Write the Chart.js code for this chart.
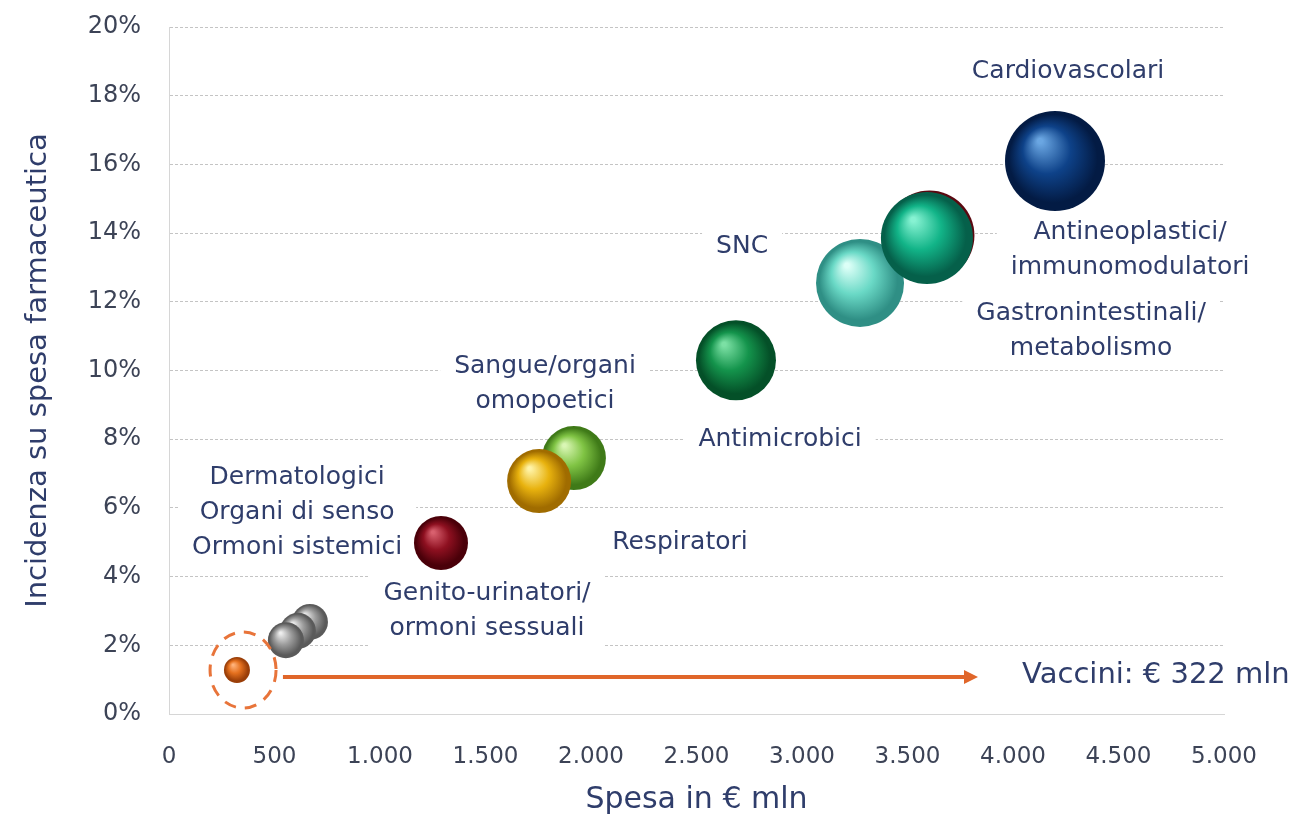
<!DOCTYPE html>
<html>
<head>
<meta charset="utf-8">
<script src="https://cdn.jsdelivr.net/npm/chart.js@4.4.1/dist/chart.umd.min.js"></script>
<style>
  html, body { margin: 0; padding: 0; background: #fff; }
  #wrap { width: 1296px; height: 818px; }
</style>
</head>
<body>
<div id="wrap"><canvas id="myChart"></canvas></div>
<script>
// categorie terapeutiche (ordine di disegno: le ultime stanno davanti)
var categorie = [
    'Vaccini',
    'Ormoni sistemici',
    'Organi di senso',
    'Dermatologici',
    'Genito-urinatori/ormoni sessuali',
    'Sangue/organi omopoetici',
    'Respiratori',
    'Antimicrobici',
    'Antineoplastici/immunomodulatori',
    'SNC',
    'Gastronintestinali/metabolismo',
    'Cardiovascolari'
];
// spesa in milioni di euro
var spesa = [322, 668, 611, 554, 1289, 1919, 1754, 2687, 3604, 3275, 3592, 4199];
// incidenza su spesa farmaceutica (%)
var incidenza = [1.28, 2.68, 2.42, 2.15, 4.98, 7.45, 6.78, 10.3, 13.93, 12.55, 13.86, 16.1];
// dimensione bolla
var dimensione = [13, 18, 18, 18, 27, 32, 32, 40, 45, 44, 46, 50];

var xTicks = [0, 500, 1000, 1500, 2000, 2500, 3000, 3500, 4000, 4500, 5000];
var yTicks = [0, 2, 4, 6, 8, 10, 12, 14, 16, 18, 20];

// colori sfera: [luce, base, ombra]
var colori = [
    ['#ffb27a', '#e4701e', '#9a3e08'],
    ['#eeeeee', '#9c9c9c', '#5a5a5a'],
    ['#eeeeee', '#9c9c9c', '#5a5a5a'],
    ['#eeeeee', '#9c9c9c', '#5a5a5a'],
    ['#d8606e', '#8e1020', '#4a0009'],
    ['#d9f6b4', '#80c444', '#3f7a18'],
    ['#fff3a6', '#e8b20e', '#a06c00'],
    ['#7be0a4', '#14944c', '#045028'],
    ['#e06a70', '#b0202a', '#5a0810'],
    ['#dcfff7', '#6ad9c6', '#2f8f85'],
    ['#86f2d2', '#12b488', '#05604a'],
    ['#6aa6e2', '#0e4289', '#031b44']
];

var etichette = [
    { righe: ['Cardiovascolari'], x: 4261, y: 18.7 },
    { righe: ['Antineoplastici/', 'immunomodulatori'], x: 4555, y: 13.51 },
    { righe: ['Gastronintestinali/', 'metabolismo'], x: 4370, y: 11.15 },
    { righe: ['SNC'], x: 2716, y: 13.6 },
    { righe: ['Antimicrobici'], x: 2896, y: 8.0 },
    { righe: ['Sangue/organi', 'omopoetici'], x: 1782, y: 9.6 },
    { righe: ['Respiratori'], x: 2422, y: 5.0 },
    { righe: ['Genito-urinatori/', 'ormoni sessuali'], x: 1507, y: 3.0 },
    { righe: ['Dermatologici', 'Organi di senso', 'Ormoni sistemici'], x: 607, y: 5.88 }
];
var testoVaccini = 'Vaccini: \u20ac 322 mln';

var coloreTesto = '#2f3d6b';
var font = '"DejaVu Sans"';

var punti = spesa.map(function(v, i) {
    return { x: v, y: incidenza[i], r: dimensione[i] };
});

function sfera(context) {
    var i = context.dataIndex;
    var chart = context.chart;
    if (i === undefined || !chart.chartArea) return colori[0][1];
    var x = chart.scales.x.getPixelForValue(spesa[i]);
    var y = chart.scales.y.getPixelForValue(incidenza[i]);
    var r = dimensione[i];
    var g = chart.ctx.createRadialGradient(x - r * 0.3, y - r * 0.4, r * 0.05, x, y, r);
    g.addColorStop(0, colori[i][0]);
    g.addColorStop(0.45, colori[i][1]);
    g.addColorStop(0.88, colori[i][2]);
    g.addColorStop(1, colori[i][2]);
    return g;
}

function disegnaEtichette(chart) {
    var ctx = chart.ctx;
    var sx = chart.scales.x, sy = chart.scales.y;
    ctx.save();
    ctx.font = '25px ' + font;
    ctx.textAlign = 'center';
    ctx.textBaseline = 'middle';
    var lh = 35;
    etichette.forEach(function(e) {
        var cx = sx.getPixelForValue(e.x);
        var cy = sy.getPixelForValue(e.y);
        var w = 0;
        e.righe.forEach(function(t) { w = Math.max(w, ctx.measureText(t).width); });
        var h = lh * e.righe.length;
        ctx.fillStyle = '#fff';
        ctx.fillRect(cx - w / 2 - 14, cy - h / 2 - 4, w + 28, h + 8);
        ctx.fillStyle = coloreTesto;
        e.righe.forEach(function(t, k) {
            ctx.fillText(t, cx, cy - (lh * (e.righe.length - 1) / 2) + k * lh);
        });
    });
    // testo vaccini
    ctx.font = '29px ' + font;
    ctx.textAlign = 'left';
    var vx = sx.getPixelForValue(4043), vy = sy.getPixelForValue(1.11);
    var vw = ctx.measureText(testoVaccini).width;
    ctx.fillStyle = '#fff';
    ctx.fillRect(vx - 14, vy - 22, vw + 28, 44);
    ctx.fillStyle = coloreTesto;
    ctx.fillText(testoVaccini, vx, vy);
    ctx.restore();
}

function disegnaFreccia(chart) {
    var ctx = chart.ctx;
    var sx = chart.scales.x, sy = chart.scales.y;
    ctx.save();
    // cerchio tratteggiato attorno ai vaccini
    var cx = sx.getPixelForValue(351), cy = sy.getPixelForValue(1.28);
    ctx.strokeStyle = '#e8743a';
    ctx.lineWidth = 3;
    ctx.setLineDash([12, 9]);
    ctx.beginPath();
    ctx.ellipse(cx, cy, 33, 38, 0, 0, 2 * Math.PI);
    ctx.stroke();
    ctx.setLineDash([]);
    // freccia
    var x0 = sx.getPixelForValue(540), x1 = sx.getPixelForValue(3834);
    var y0 = sy.getPixelForValue(1.08);
    ctx.strokeStyle = '#e0662a';
    ctx.lineWidth = 4;
    ctx.beginPath();
    ctx.moveTo(x0, y0);
    ctx.lineTo(x1 - 10, y0);
    ctx.stroke();
    ctx.fillStyle = '#e0662a';
    ctx.beginPath();
    ctx.moveTo(x1, y0);
    ctx.lineTo(x1 - 14, y0 - 7);
    ctx.lineTo(x1 - 14, y0 + 7);
    ctx.closePath();
    ctx.fill();
    ctx.restore();
}

var ctx = document.getElementById('myChart').getContext('2d');
var myChart = new Chart(ctx, {
    type: 'bubble',
    data: {
        labels: categorie,
        datasets: [{
            label: 'Categorie terapeutiche',
            data: punti,
            backgroundColor: sfera,
            hoverBackgroundColor: sfera,
            borderWidth: 0,
            hoverBorderWidth: 0,
            hoverRadius: 0,
            clip: false
        }]
    },
    options: {
        responsive: true,
        maintainAspectRatio: false,
        animation: false,
        events: [],
        layout: {
            autoPadding: false,
            padding: { top: 27, right: 72, left: 0, bottom: 0 }
        },
        scales: {
            x: {
                type: 'linear',
                min: 0,
                max: 5000,
                afterFit: function(scale) {
                    scale.height = 104;
                    scale.paddingLeft = 0; scale.paddingRight = 0;
                },
                afterBuildTicks: function(scale) {
                    scale.ticks = xTicks.map(function(v) { return { value: v }; });
                },
                grid: { display: false, drawTicks: false },
                border: { display: true, color: '#d6d6d6', width: 1 },
                ticks: {
                    padding: 29,
                    color: '#3c4356',
                    font: { family: font, size: 23 },
                    callback: function(v) {
                        return v >= 1000 ? Math.floor(v / 1000) + '.' + String(v % 1000).padStart(3, '0') : String(v);
                    }
                },
                title: {
                    display: true,
                    text: 'Spesa in \u20ac mln',
                    color: coloreTesto,
                    font: { family: font, size: 30 },
                    padding: { top: 2, bottom: 0 }
                }
            },
            y: {
                type: 'linear',
                min: 0,
                max: 20,
                afterFit: function(scale) {
                    scale.width = 169;
                    scale.paddingTop = 0; scale.paddingBottom = 0;
                },
                afterBuildTicks: function(scale) {
                    scale.ticks = yTicks.map(function(v) { return { value: v }; });
                },
                grid: {
                    color: '#c4c4c4',
                    lineWidth: 1,
                    drawTicks: false
                },
                border: { display: true, color: '#d6d6d6', width: 1, dash: [3, 2] },
                ticks: {
                    padding: 28,
                    color: '#3c4356',
                    font: { family: font, size: 24 },
                    callback: function(v) { return v + '%'; }
                },
                title: {
                    display: true,
                    text: 'Incidenza su spesa farmaceutica',
                    color: coloreTesto,
                    font: { family: font, size: 29 },
                    padding: { top: 21, bottom: 0 }
                }
            }
        },
        plugins: {
            legend: { display: false },
            tooltip: { enabled: false }
        }
    },
    plugins: [{
        id: 'etichette',
        beforeDatasetsDraw: disegnaEtichette,
        afterDatasetsDraw: disegnaFreccia
    }]
});
</script>
</body>
</html>
